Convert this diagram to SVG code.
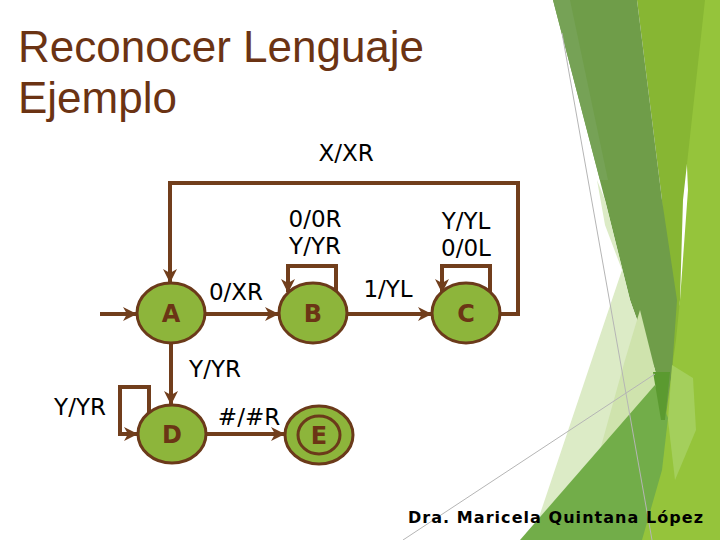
<svg xmlns="http://www.w3.org/2000/svg" width="720" height="540" viewBox="0 0 720 540">
<style>
.title{font-family:"Liberation Sans",Arial,sans-serif;font-size:44px;fill:#6b3313}
.lbl{font-family:"DejaVu Sans",Verdana,sans-serif;font-size:23px;fill:#000;text-anchor:middle}
.nodeTxt{font-family:"DejaVu Sans",Verdana,sans-serif;font-size:24px;font-weight:bold;fill:#6b3515;text-anchor:middle}
.node{fill:#8db53b;stroke:#6b3a1a;stroke-width:3}
.ring{fill:none;stroke:#6b3a1a;stroke-width:3}
.edge{fill:none;stroke:#713e1c;stroke-width:4;stroke-linejoin:miter}
.footer{font-family:"DejaVu Sans",Verdana,sans-serif;font-size:16px;font-weight:bold;fill:#000}
.gl{stroke:#b5b5b5;stroke-width:1;fill:none}
</style>
<defs>
<marker id="arr" markerUnits="userSpaceOnUse" markerWidth="14" markerHeight="14" viewBox="0 0 14 14" refX="13" refY="7" orient="auto">
<path d="M0,0 L14,7 L0,14 L4,7 Z" fill="#713e1c"/>
</marker>
</defs>
<rect width="720" height="540" fill="#ffffff"/>
<g id="background">
<polygon points="680,0 720,0 720,540 600,540 660,420 680,300 688,190" fill="#95c43b"/>
<polygon points="637,0 705,0 683,200 680,300 676,340 666,410 662,200" fill="#87b633"/>
<polygon points="553,0 637,0 662,200 677,300 672,370 666,415 662,410 655,370 630,300 605,200" fill="#6f9d49"/>
<polygon points="553,0 570,0 608,180 600,180" fill="#76a256"/>
<polygon points="672,365 693,378 696,430 675,480 668,420" fill="#a4cf5c"/>
<polygon points="597,180 605,200 630,300 655,370 662,410 655,386 538,520 622,270 605,225" fill="#dcebc6"/>
<polygon points="640,310 655,370 660,400 655,386 600,450 625,360" fill="#cfe3ad"/>
<polygon points="655,385 668,418 662,470 642,540 520,540" fill="#72ad49"/>
<polygon points="653,372 670,372 665,420 661,420" fill="#5b9a30"/>
<line class="gl" x1="562" y1="33" x2="652" y2="540"/>
<line class="gl" x1="403" y1="540" x2="655" y2="374"/>
</g>
<g id="title">
<text class="title" x="18" y="62">Reconocer Lenguaje</text>
<text class="title" x="18" y="113">Ejemplo</text>
</g>
<g id="connectors">
<path class="edge" d="M100,314 L136,314" marker-end="url(#arr)"/>
<path class="edge" d="M205,314 L278,314" marker-end="url(#arr)"/>
<path class="edge" d="M347,314 L431,314" marker-end="url(#arr)"/>
<path class="edge" d="M500,314 L518,314 L518,183 L170,183 L170,282" marker-end="url(#arr)"/>
<path class="edge" d="M336,292 L336,266 L288,266 L288,292" marker-end="url(#arr)"/>
<path class="edge" d="M490,292 L490,266 L442,266 L442,292" marker-end="url(#arr)"/>
<path class="edge" d="M171,343 L171,404" marker-end="url(#arr)"/>
<path class="edge" d="M149,413 L149,387 L120,387 L120,434 L137,434" marker-end="url(#arr)"/>
<path class="edge" d="M206,434 L284,434" marker-end="url(#arr)"/>
</g>
<g id="labels">
<text class="lbl" x="346" y="161">X/XR</text>
<text class="lbl" x="315" y="227">0/0R</text>
<text class="lbl" x="315" y="254">Y/YR</text>
<text class="lbl" x="466" y="229">Y/YL</text>
<text class="lbl" x="466" y="256">0/0L</text>
<text class="lbl" x="236" y="300">0/XR</text>
<text class="lbl" x="388" y="297">1/YL</text>
<text class="lbl" x="215" y="377">Y/YR</text>
<text class="lbl" x="80" y="415">Y/YR</text>
<text class="lbl" x="249" y="425">#/#R</text>
</g>
<g id="node-A">
<ellipse class="node" cx="171" cy="313" rx="34" ry="30"/>
<text class="nodeTxt" x="171" y="322">A</text>
</g>
<g id="node-B">
<ellipse class="node" cx="313" cy="313" rx="34" ry="30"/>
<text class="nodeTxt" x="313" y="322">B</text>
</g>
<g id="node-C">
<ellipse class="node" cx="466" cy="313" rx="34" ry="30"/>
<text class="nodeTxt" x="466" y="322">C</text>
</g>
<g id="node-D">
<ellipse class="node" cx="172" cy="434" rx="34" ry="29"/>
<text class="nodeTxt" x="172" y="443">D</text>
</g>
<g id="node-E">
<ellipse class="node" cx="319" cy="435" rx="34" ry="29"/>
<ellipse class="ring" cx="319" cy="435" rx="21" ry="19"/>
<text class="nodeTxt" x="319" y="444">E</text>
</g>
<g id="footer">
<text class="footer" x="408" y="523" textLength="295" lengthAdjust="spacing">Dra. Maricela Quintana López</text>
</g>
</svg>
